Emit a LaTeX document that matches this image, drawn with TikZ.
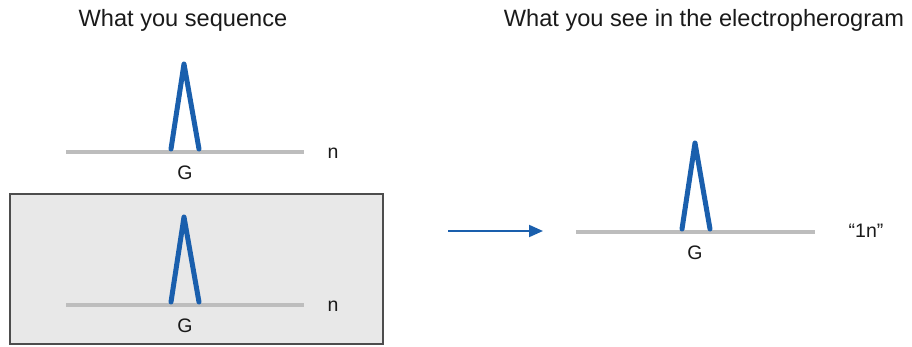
\documentclass[tikz,border=0pt]{standalone}
\usepackage{fontspec}
\setmainfont{Liberation Sans}
\usetikzlibrary{arrows.meta}
\definecolor{peakblue}{HTML}{1A5FAD}
\definecolor{basegray}{HTML}{BDBDBD}
\definecolor{boxfill}{HTML}{E8E8E8}
\definecolor{boxline}{HTML}{4D4D4D}
\definecolor{txt}{HTML}{1A1A1A}
\begin{document}
\begin{tikzpicture}[x=1pt,y=-1pt,
  title/.style={text=txt,font=\fontsize{23.6}{28}\selectfont,inner sep=0pt},
  lbl/.style={text=txt,font=\fontsize{19.5}{23}\selectfont,inner sep=0pt},
  baseline/.style={draw=basegray,line width=4.8pt},
  peak/.style={draw=peakblue,line width=5pt,line cap=round,line join=round},
  panel/.style={draw=boxline,fill=boxfill,line width=1.5pt},
  flow/.style={draw=peakblue,line width=2pt,-{Triangle[length=14pt,width=12pt]}}]
\useasboundingbox (0,0) rectangle (912,347);
% box
\path[panel] (10,194) rectangle (383,344);
% titles
\node[title] (t1) at (183,20) {What you sequence};
\node[title] (t2) at (704,20) {What you see in the electropherogram};
% top panel
\coordinate (b1l) at (66,152); \coordinate (b1r) at (304,152);
\draw[baseline] (b1l) -- (b1r);
\coordinate (p1a) at (171,149); \coordinate (p1t) at (184,64); \coordinate (p1b) at (199,149);
\draw[peak] (p1a) -- (p1t) -- (p1b);
\node[lbl] (n1) at (333,153) {n};
\node[lbl] (g1) at (185,173) {G};
% bottom panel
\coordinate (b2l) at (66,305); \coordinate (b2r) at (304,305);
\draw[baseline] (b2l) -- (b2r);
\coordinate (p2a) at (171,302); \coordinate (p2t) at (184,217); \coordinate (p2b) at (199,302);
\draw[peak] (p2a) -- (p2t) -- (p2b);
\node[lbl] (n2) at (333,306) {n};
\node[lbl] (g2) at (185,326) {G};
% arrow
\coordinate (a1) at (448,231); \coordinate (a2) at (543,231);
\draw[flow] (a1) -- (a2);
% right panel
\coordinate (b3l) at (576,232); \coordinate (b3r) at (815,232);
\draw[baseline] (b3l) -- (b3r);
\coordinate (p3a) at (682,229); \coordinate (p3t) at (695,143); \coordinate (p3b) at (710,229);
\draw[peak] (p3a) -- (p3t) -- (p3b);
\node[lbl] (n3) at (866,231) {“1n”};
\node[lbl] (g3) at (695,253) {G};
\end{tikzpicture}
\end{document}
